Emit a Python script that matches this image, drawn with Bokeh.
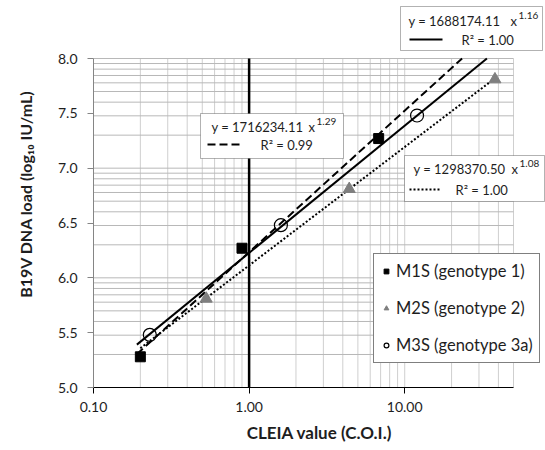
import math
from bokeh.plotting import figure
from bokeh.models import (FixedTicker, PrintfTickFormatter, Label,
                          BoxAnnotation, Arrow, Range1d)
from bokeh.embed import file_html
from bokeh.resources import INLINE

FONT = "Lato"
TXT = "#1e1e1e"

# ---- data ----
m1s_x = [0.20, 0.90, 6.8]
m1s_y = [5.28, 6.27, 7.27]
m2s_x = [0.53, 4.4, 38.0]
m2s_y = [5.81, 6.81, 7.81]
m3s_x = [0.23, 1.6, 12.0]
m3s_y = [5.48, 6.48, 7.48]

series_labels = ["M1S (genotype 1)", "M2S (genotype 2)", "M3S (genotype 3a)"]

# power trendlines y = a * x^b (y shown as log10)
fit_a = [1716234.11, 1298370.50, 1688174.11]
fit_a_text = ["1716234.11", "1298370.50", "1688174.11"]
fit_b = [1.29, 1.08, 1.16]
fit_b_text = ["1.29", "1.08", "1.16"]
fit_r2 = ["0.99", "1.00", "1.00"]
fit_x_start = [0.19, 0.20, 0.19]
fit_x_last = [None, 38.0, None]   # None: line runs to the top of the axis
fit_dash = ["8 4", "2 2", "solid"]

x_ticks = [0.1, 1, 10]
y_ticks = [5.0, 5.5, 6.0, 6.5, 7.0, 7.5, 8.0]
x_min, x_max = 0.1, 50
y_min, y_max = 5.0, 8.0

# ---- layout (page pixels) ----
W, H = 545, 450
FL, FR, FT, FB = 93, 513, 58, 387   # plot area: left, right, top, bottom
# the drawing frame spans FL..W horizontally and 0..FB vertically, so that
# the boxes and legend (which Bokeh clips to the frame) can sit outside the axes
lx0, lx1 = math.log10(x_min), math.log10(x_max)
x_end = 10 ** (lx0 + (W - FL) / (FR - FL) * (lx1 - lx0))
y_end = y_min + FB / (FB - FT) * (y_max - y_min)

p = figure(width=W, height=H, x_axis_type="log",
           x_range=Range1d(x_min, x_end), y_range=Range1d(y_min, y_end),
           output_backend="svg", toolbar_location=None,
           min_border_left=FL, min_border_right=0,
           min_border_top=0, min_border_bottom=H - FB)
p.outline_line_color = None
p.background_fill_color = "white"
p.xgrid.visible = False
p.ygrid.visible = False

# log-style gridlines limited to the axes box
x_grid = [k * 10 ** n for n in (-1, 0, 1) for k in range(1, 10) if k * 10 ** n <= x_max + 1e-9]
y_grid = [n + math.log10(k) for n in (5, 6, 7) for k in range(1, 10)] + [8.0]
p.segment(x0=x_grid, x1=x_grid, y0=[y_min] * len(x_grid), y1=[y_max] * len(x_grid),
          line_color="#cfcfcf", line_width=1)
p.segment(x0=[x_min] * len(y_grid), x1=[x_max] * len(y_grid), y0=y_grid, y1=y_grid,
          line_color="#b8b8b8", line_width=1)

# axes
xa = p.xaxis[0]
xa.bounds = (x_min, x_max)
xa.ticker = FixedTicker(ticks=x_ticks, minor_ticks=[])
xa.formatter = PrintfTickFormatter(format="%.2f")
xa.axis_line_color = "black"
xa.major_tick_line_color = "black"
xa.major_tick_out = 6
xa.major_tick_in = 0
xa.minor_tick_out = 0
xa.minor_tick_in = 0
xa.major_label_standoff = 8
xa.major_label_text_font = FONT
xa.major_label_text_font_size = "14px"
xa.major_label_text_color = TXT
xa.axis_label = "CLEIA value (C.O.I.)"
xa.axis_label_text_font = FONT
xa.axis_label_text_font_size = "17px"
xa.axis_label_text_font_style = "bold"
xa.axis_label_text_color = TXT
xa.axis_label_standoff = 7

ya = p.yaxis[0]
ya.bounds = (y_min, y_max)
ya.ticker = FixedTicker(ticks=y_ticks, minor_ticks=[])
ya.formatter = PrintfTickFormatter(format="%.1f")
ya.axis_line_color = "#858585"
ya.major_tick_line_color = "#858585"
ya.major_tick_out = 6
ya.major_tick_in = 0
ya.minor_tick_out = 0
ya.minor_tick_in = 0
ya.major_label_standoff = 10
ya.major_label_text_font = FONT
ya.major_label_text_font_size = "14px"
ya.major_label_text_color = TXT
ya.axis_label = "B19V DNA load (log\u2081\u2080 IU/mL)"
ya.axis_label_text_font = FONT
ya.axis_label_text_font_size = "16px"
ya.axis_label_text_font_style = "bold"
ya.axis_label_text_color = TXT
ya.axis_label_standoff = 20

# vertical line at 1.00
p.segment(x0=[1], x1=[1], y0=[y_min], y1=[y_max], line_color="black", line_width=2.5)

# trendlines
for a, b, xs0, xs1, dash in zip(fit_a, fit_b, fit_x_start, fit_x_last, fit_dash):
    if xs1 is None:
        xs1 = 10 ** ((y_max - math.log10(a)) / b)
    xs = [xs0, xs1]
    ys = [math.log10(a) + b * math.log10(v) for v in xs]
    p.line(xs, ys, line_color="black", line_width=2, line_dash=dash)

# markers
p.scatter(m1s_x, m1s_y, marker="square", size=10, fill_color="black",
          line_color="black", legend_label=series_labels[0])
p.scatter(m2s_x, m2s_y, marker="triangle", size=12, fill_color="#7f7f7f",
          line_color="#7f7f7f", legend_label=series_labels[1])
p.scatter(m3s_x, m3s_y, marker="circle", size=13, fill_color="white", fill_alpha=0,
          line_color="black", line_width=1.2, legend_label=series_labels[2])


def sx(X):
    return X - FL


def sy(Y):
    return FB - Y


lg = p.legend[0]
lg.location = (sx(373), sy(363))
lg.margin = 0
lg.padding = 6
lg.spacing = 15
lg.glyph_width = 12
lg.glyph_height = 22
lg.label_height = 22
lg.label_standoff = 4
lg.label_text_font = FONT
lg.label_text_font_size = "16.5px"
lg.label_text_color = TXT
lg.border_line_color = "black"
lg.border_line_width = 1
lg.background_fill_color = "white"
lg.background_fill_alpha = 1


def eq_box(l, t, r, bt, row1, row2, a_txt, b_txt, r2_txt, dash, xpos, sample, r2x):
    p.add_layout(BoxAnnotation(left=sx(l), right=sx(r), top=sy(t), bottom=sy(bt),
                               left_units="screen", right_units="screen",
                               top_units="screen", bottom_units="screen",
                               fill_color="white", fill_alpha=1,
                               line_color="black", line_width=1, level="overlay"))
    p.add_layout(Label(x=sx(xpos[0]), y=sy(row1), x_units="screen", y_units="screen",
                       text="y = " + a_txt, text_font=FONT, text_font_size="13px",
                       text_baseline="middle", text_color=TXT, level="overlay"))
    p.add_layout(Label(x=sx(xpos[1]), y=sy(row1), x_units="screen", y_units="screen",
                       text="x", text_font=FONT, text_font_size="13px",
                       text_baseline="middle", text_color=TXT, level="overlay"))
    p.add_layout(Label(x=sx(xpos[1] + 8), y=sy(row1 - 5), x_units="screen", y_units="screen",
                       text=b_txt, text_font=FONT, text_font_size="10px",
                       text_baseline="middle", text_color=TXT, level="overlay"))
    p.add_layout(Arrow(x_start=sx(sample[0]), x_end=sx(sample[1]), y_start=sy(row2), y_end=sy(row2),
                       start_units="screen", end_units="screen", start=None, end=None,
                       line_color="black", line_width=2, line_dash=dash, level="overlay"))
    p.add_layout(Label(x=sx(r2x), y=sy(row2), x_units="screen", y_units="screen",
                       text="R\u00b2 = " + r2_txt, text_font=FONT, text_font_size="13px",
                       text_baseline="middle", text_color=TXT, level="overlay"))


# M3S (solid) box, top right
eq_box(400, 6, 542, 50, 20, 39, fit_a_text[2], fit_b_text[2], fit_r2[2], fit_dash[2],
       (408, 510), (409, 442), 461)
# M1S (dashed) box
eq_box(200, 113, 343, 158, 126, 144, fit_a_text[0], fit_b_text[0], fit_r2[0], fit_dash[0],
       (211, 308), (207, 243), 260)
# M2S (dotted) box
eq_box(404, 155, 544, 201, 168, 189, fit_a_text[1], fit_b_text[1], fit_r2[1], fit_dash[1],
       (413, 511), (409, 439), 455)

open("out.html", "w").write(file_html(p, INLINE))
